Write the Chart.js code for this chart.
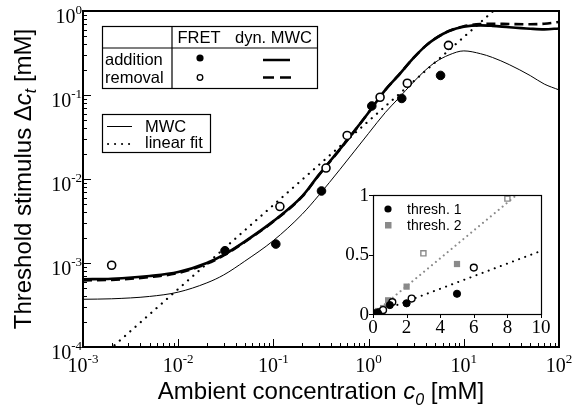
<!DOCTYPE html>
<html><head><meta charset="utf-8">
<script src="https://cdn.jsdelivr.net/npm/chart.js@4.4.0/dist/chart.umd.min.js"></script>
<style>
html,body{margin:0;padding:0;background:#fff;}
#wrap{position:relative;width:579px;height:412px;overflow:hidden;}
#main{position:absolute;left:0;top:0;}
#inset{position:absolute;left:330px;top:180px;}
</style></head><body>
<div id="wrap"><canvas id="main" width="579" height="412"></canvas><canvas id="inset" width="230" height="160"></canvas></div>
<script>
// ---------- main plot data ----------
const fretAddC  = [0.031, 0.106, 0.32, 1.08, 2.23, 5.7];
const fretAddDc = [0.0014, 0.00168, 0.0072, 0.074, 0.091, 0.171];
const fretRemC  = [0.002, 0.117, 0.357, 0.595, 1.32, 2.55, 6.9];
const fretRemDc = [0.00094, 0.0047, 0.0135, 0.033, 0.094, 0.138, 0.39];

const curveC   = [0.001,0.002,0.005,0.01,0.02,0.03,0.05,0.1,0.2,0.3,0.5,0.7,1,1.5,2,3,4,5,7,10,15,20,30,50,70,100];
const dynAdd   = [6.4e-4,6.5e-4,7.0e-4,7.8e-4,1.0e-3,1.25e-3,1.8e-3,3.15e-3,6.2e-3,0.0112,0.0227,0.0366,0.062,0.115,0.165,0.28,0.387,0.47,0.577,0.65,0.675,0.665,0.64,0.615,0.605,0.62];
const dynRem   = [6.2e-4,6.3e-4,6.8e-4,7.6e-4,9.8e-4,1.23e-3,1.78e-3,3.12e-3,6.15e-3,0.0111,0.0225,0.0364,0.062,0.115,0.165,0.28,0.387,0.47,0.58,0.66,0.70,0.705,0.70,0.695,0.705,0.74];
const mwc      = [3.7e-4,3.75e-4,4.0e-4,4.5e-4,5.8e-4,7.2e-4,1.05e-3,1.85e-3,3.8e-3,6.4e-3,0.013,0.021,0.035,0.062,0.088,0.145,0.2,0.245,0.3,0.335,0.31,0.28,0.23,0.17,0.135,0.115];
const fitC     = [0.001, 30];
const fitDc    = [0.000049, 1.47];

const xTickExp = [-3,-2,-1,0,1,2];
const yTickExp = [-4,-3,-2,-1,0];

// ---------- inset data ----------
const t1AddX = [0.03, 0.1, 0.3, 1.0, 2.0, 5.0];
const t1AddY = [0.001, 0.002, 0.007, 0.075, 0.09, 0.17];
const t1RemX = [0.1, 0.35, 0.6, 1.15, 2.3, 6.0];
const t1RemY = [0.005, 0.013, 0.033, 0.1, 0.13, 0.39];
const t2AddX = [0.1, 0.3, 0.6, 0.9, 2.0, 5.0];
const t2AddY = [0.005, 0.025, 0.05, 0.115, 0.23, 0.42];
const t2RemX = [0.05, 3.0, 8.0];
const t2RemY = [0.0, 0.51, 0.97];
const fit1X = [0, 10], fit1Y = [0, 0.53];
const fit2X = [0, 10], fit2Y = [0, 1.17];
const insetXTicks = [0,2,4,6,8,10];
const insetYTicks = [0,0.5,1];
const insetYLabels = ['0','0.5','1'];
const legendInset = ['thresh. 1','thresh. 2'];

const GREY = '#8a8a8a';
const SANS = '"Liberation Sans", Arial, sans-serif';
const SERIF = '"Liberation Serif", "Times New Roman", serif';

const pts = (xs, ys) => xs.map((v,i)=>({x:v, y:ys[i]}));

function drawRuns(ctx, runs, x, y, align){
  let w = 0;
  runs.forEach(r=>{ctx.font=r.f; r.w=ctx.measureText(r.t).width; w+=r.w;});
  let cx = align==='center' ? x - w/2 : (align==='right' ? x - w : x);
  ctx.textBaseline='alphabetic'; ctx.textAlign='left';
  runs.forEach(r=>{ctx.font=r.f; ctx.fillText(r.t, cx, y + (r.dy||0)); cx += r.w;});
  return w;
}

function powLabel(ctx, exp, x, y, align){
  const runs = [{t:'10', f:'20px '+SERIF},{t:String(exp), f:'13px '+SERIF, dy:-9}];
  drawRuns(ctx, runs, x, y, align);
}

const mainDeco = {
  id:'mainDeco',
  afterDraw(chart){
    const {ctx, chartArea:a, scales:{x,y}} = chart;
    ctx.save();
    ctx.fillStyle='#000'; ctx.strokeStyle='#000';
    ctx.lineWidth=1;
    ctx.beginPath();
    for (let e=-3;e<=2;e++) for (let m=1;m<10;m++){
      if (e===2 && m>1) break;
      const v=m*Math.pow(10,e);
      const px=Math.round(x.getPixelForValue(v))+0.5;
      const len=m===1?8:4;
      ctx.moveTo(px,a.bottom); ctx.lineTo(px,a.bottom-len);
    }
    for (let e=-4;e<=0;e++) for (let m=1;m<10;m++){
      if (e===0 && m>1) break;
      const v=m*Math.pow(10,e);
      const py=Math.round(y.getPixelForValue(v))+0.5;
      const len=m===1?8:4;
      ctx.moveTo(a.left,py); ctx.lineTo(a.left+len,py);
    }
    ctx.stroke();
    ctx.lineWidth=2;
    ctx.strokeRect(a.left, a.top, a.right-a.left, a.bottom-a.top);
    xTickExp.forEach(e=>{
      const px=x.getPixelForValue(Math.pow(10,e));
      powLabel(ctx, e, px, 372, 'center');
    });
    yTickExp.forEach(e=>{
      const py=y.getPixelForValue(Math.pow(10,e));
      powLabel(ctx, e, 82, py+12, 'right');
    });
    drawRuns(ctx, [
      {t:'Ambient concentration ', f:'24px '+SANS},
      {t:'c', f:'italic 24px '+SANS},
      {t:'0', f:'italic 16px '+SANS, dy:6},
      {t:' [mM]', f:'24px '+SANS}], (a.left+a.right)/2, 399, 'center');
    ctx.save();
    ctx.translate(31, (a.top+a.bottom)/2);
    ctx.rotate(-Math.PI/2);
    drawRuns(ctx, [
      {t:'Threshold stimulus \u0394', f:'24px '+SANS},
      {t:'c', f:'italic 24px '+SANS},
      {t:'t', f:'italic 16px '+SANS, dy:5},
      {t:' [mM]', f:'24px '+SANS}], 0, 0, 'center');
    ctx.restore();

    // legend box 1
    ctx.fillStyle='#fff';
    ctx.fillRect(102,26,216,62);
    ctx.fillStyle='#000';
    ctx.lineWidth=1.2;
    ctx.strokeRect(102.5,26.5,215,62);
    ctx.beginPath();
    ctx.moveTo(172,26.5); ctx.lineTo(172,88.5);
    ctx.moveTo(102.5,48); ctx.lineTo(317.5,48);
    ctx.stroke();
    ctx.font='16.5px '+SANS; ctx.textBaseline='alphabetic';
    ctx.textAlign='center'; ctx.fillText('FRET',199,43);
    ctx.textAlign='left'; ctx.fillText('dyn. MWC',235,43);
    ctx.fillText('addition',105,65);
    ctx.fillText('removal',105,82.5);
    ctx.beginPath(); ctx.arc(200,58,3.6,0,Math.PI*2); ctx.fill();
    ctx.lineWidth=1.3;
    ctx.beginPath(); ctx.arc(200,77.5,2.8,0,Math.PI*2); ctx.stroke();
    ctx.lineWidth=2.5;
    ctx.beginPath(); ctx.moveTo(263,60); ctx.lineTo(290,60); ctx.stroke();
    ctx.setLineDash([11,6]);
    ctx.beginPath(); ctx.moveTo(263,77.5); ctx.lineTo(291,77.5); ctx.stroke();
    ctx.setLineDash([]);

    // legend box 2
    ctx.fillStyle='#fff'; ctx.fillRect(102,114,109,39); ctx.fillStyle='#000';
    ctx.lineWidth=1.2;
    ctx.strokeRect(102.5,114.5,108,38);
    ctx.font='16.5px '+SANS; ctx.textAlign='left';
    ctx.fillText('MWC',145,131.5);
    ctx.fillText('linear fit',145,148);
    ctx.lineWidth=1;
    ctx.beginPath(); ctx.moveTo(107,126.5); ctx.lineTo(132,126.5); ctx.stroke();
    ctx.lineWidth=2; ctx.lineCap='round'; ctx.setLineDash([0.1,6.9]);
    ctx.beginPath(); ctx.moveTo(108,144); ctx.lineTo(133,144); ctx.stroke();
    ctx.setLineDash([]); ctx.lineCap='butt';
    ctx.restore();
  }
};

new Chart(document.getElementById('main'), {
  type:'scatter',
  data:{datasets:[
    {label:'FRET addition', data:pts(fretAddC,fretAddDc), pointRadius:4.3, pointBackgroundColor:'#000', pointBorderColor:'#000', pointBorderWidth:1},
    {label:'FRET removal', data:pts(fretRemC,fretRemDc), pointRadius:4, pointBackgroundColor:'#fff', pointBorderColor:'#000', pointBorderWidth:1.6},
    {label:'dyn. MWC addition', data:pts(curveC,dynAdd), showLine:true, pointRadius:0, borderColor:'#000', borderWidth:2.6, cubicInterpolationMode:'monotone'},
    {label:'dyn. MWC removal', data:pts(curveC,dynRem), showLine:true, pointRadius:0, borderColor:'#000', borderWidth:2.6, borderDash:[9,5], cubicInterpolationMode:'monotone'},
    {label:'MWC', data:pts(curveC,mwc), showLine:true, pointRadius:0, borderColor:'#000', borderWidth:1, cubicInterpolationMode:'monotone'},
    {label:'linear fit', data:pts(fitC,fitDc), showLine:true, pointRadius:0, borderColor:'#000', borderWidth:2.2, borderDash:[0.1,6.9], borderCapStyle:'round'}
  ]},
  options:{
    responsive:false, animation:false, devicePixelRatio:1,
    layout:{padding:{left:83,top:11,right:20,bottom:65}},
    plugins:{legend:{display:false},tooltip:{enabled:false}},
    scales:{
      x:{type:'logarithmic',min:1e-3,max:1e2,display:false},
      y:{type:'logarithmic',min:1e-4,max:1,display:false}
    }
  },
  plugins:[mainDeco]
});

// ---------- inset ----------
const insetDeco = {
  id:'insetDeco',
  beforeDatasetsDraw(chart){
    const {ctx, chartArea:a} = chart;
    ctx.save(); ctx.fillStyle='#fff';
    ctx.fillRect(a.left,a.top,a.right-a.left,a.bottom-a.top);
    ctx.restore();
  },
  afterDraw(chart){
    const {ctx, chartArea:a, scales:{x,y}} = chart;
    ctx.save();
    ctx.strokeStyle='#000'; ctx.fillStyle='#000';
    ctx.lineWidth=1.2;
    ctx.strokeRect(a.left+0.5,a.top+0.5,a.right-a.left,a.bottom-a.top);
    ctx.lineWidth=1;
    ctx.beginPath();
    insetXTicks.forEach(v=>{const px=Math.round(x.getPixelForValue(v))+0.5; ctx.moveTo(px,a.bottom); ctx.lineTo(px,a.bottom+4);});
    insetYTicks.forEach(v=>{const py=Math.round(y.getPixelForValue(v))+0.5; ctx.moveTo(a.left,py); ctx.lineTo(a.left-4,py);});
    ctx.stroke();
    ctx.font='19px '+SERIF;
    ctx.textAlign='center'; ctx.textBaseline='middle';
    insetXTicks.forEach(v=>ctx.fillText(String(v), x.getPixelForValue(v), a.bottom+14));
    ctx.textAlign='right';
    insetYTicks.forEach((v,i)=>ctx.fillText(insetYLabels[i], a.left-4, y.getPixelForValue(v)+1));
    ctx.font='14px '+SANS; ctx.textAlign='left'; ctx.textBaseline='middle';
    ctx.beginPath(); ctx.arc(a.left+15,a.top+14,3.6,0,Math.PI*2); ctx.fill();
    ctx.fillText(legendInset[0], a.left+34, a.top+15);
    ctx.fillStyle=GREY; ctx.fillRect(a.left+12,a.top+27,6.5,6.5);
    ctx.fillStyle='#000';
    ctx.fillText(legendInset[1], a.left+34, a.top+31);
    ctx.restore();
  }
};

new Chart(document.getElementById('inset'), {
  type:'scatter',
  data:{datasets:[
    {data:pts(t1AddX,t1AddY), pointRadius:3.6, pointBackgroundColor:'#000', pointBorderColor:'#000', pointBorderWidth:1},
    {data:pts(t1RemX,t1RemY), pointRadius:3.4, pointBackgroundColor:'#fff', pointBorderColor:'#000', pointBorderWidth:1.4},
    {data:pts(t2AddX,t2AddY), pointStyle:'rect', pointRadius:4.4, pointBackgroundColor:GREY, pointBorderColor:GREY, pointBorderWidth:0},
    {data:pts(t2RemX,t2RemY), pointStyle:'rect', pointRadius:3.6, pointBackgroundColor:'#fff', pointBorderColor:GREY, pointBorderWidth:1.4},
    {data:pts(fit1X,fit1Y), showLine:true, pointRadius:0, borderColor:'#000', borderWidth:2, borderDash:[0.1,6.4], borderCapStyle:'round'},
    {data:pts(fit2X,fit2Y), showLine:true, pointRadius:0, borderColor:GREY, borderWidth:2, borderDash:[0.1,5], borderCapStyle:'round'}
  ]},
  options:{
    responsive:false, animation:false, devicePixelRatio:1,
    layout:{padding:{left:43,top:15,right:19,bottom:26}},
    plugins:{legend:{display:false},tooltip:{enabled:false}},
    scales:{
      x:{type:'linear',min:0,max:10,display:false},
      y:{type:'linear',min:0,max:1,display:false}
    }
  },
  plugins:[insetDeco]
});
</script></body></html>
